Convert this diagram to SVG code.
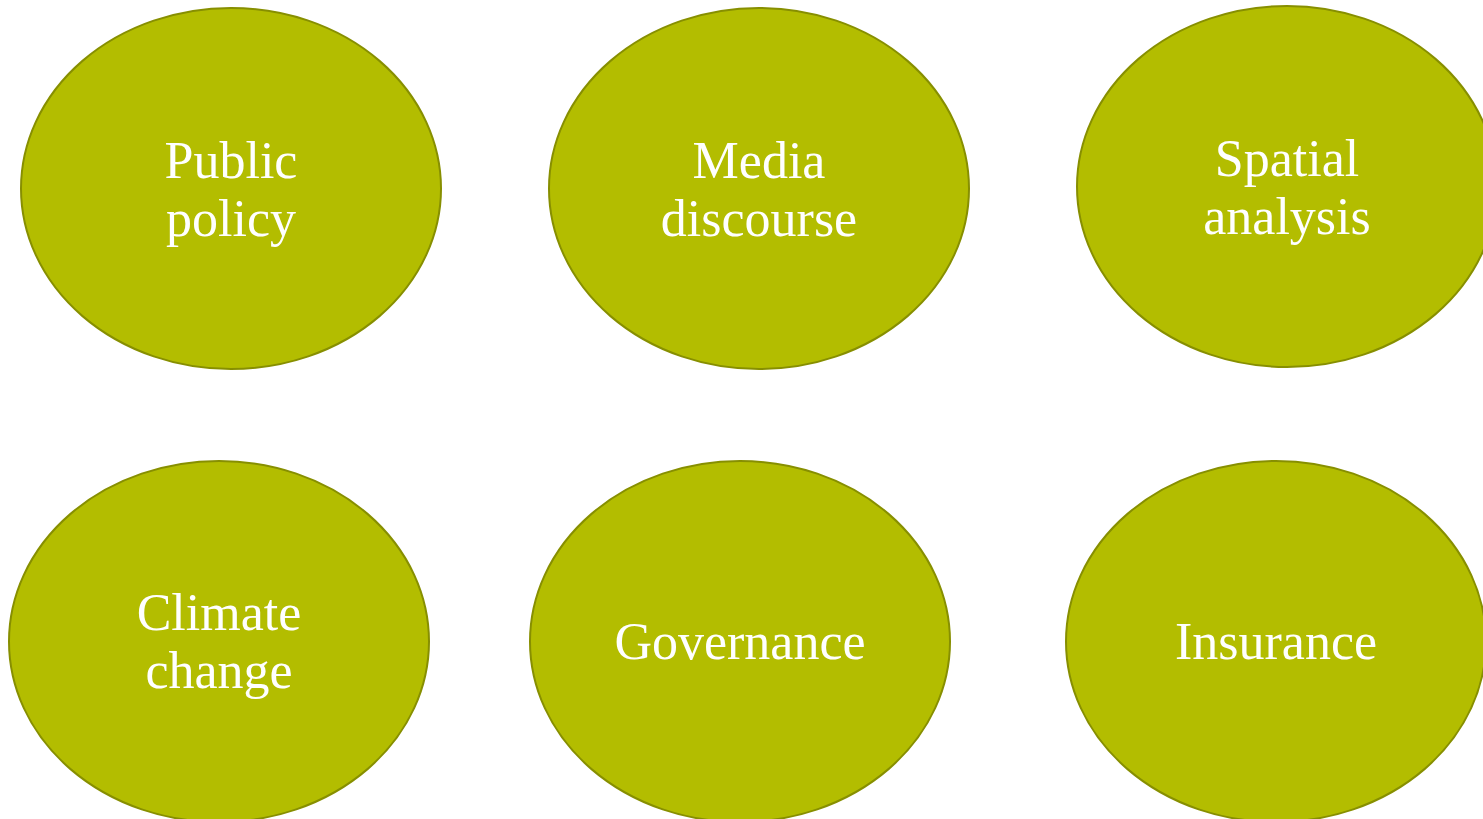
<svg xmlns="http://www.w3.org/2000/svg" width="1483" height="819" viewBox="0 0 1483 819">
  <style>
    .node ellipse { fill: #b3bd00; stroke: #878f00; stroke-width: 2; }
    .node text { fill: #ffffff; font-family: "Liberation Serif", "Times New Roman", serif; font-size: 52px; text-anchor: middle; }
  </style>
  <rect width="1483" height="819" fill="#ffffff"/>
  <g id="public-policy" class="node">
    <ellipse cx="231" cy="188.5" rx="210" ry="180.5"/>
    <text x="231" y="178">Public</text>
    <text x="231" y="236">policy</text>
  </g>
  <g id="media-discourse" class="node">
    <ellipse cx="759" cy="188.5" rx="210" ry="180.5"/>
    <text x="759" y="178">Media</text>
    <text x="759" y="236">discourse</text>
  </g>
  <g id="spatial-analysis" class="node">
    <ellipse cx="1287" cy="186.5" rx="210" ry="180.5"/>
    <text x="1287" y="176">Spatial</text>
    <text x="1287" y="234">analysis</text>
  </g>
  <g id="climate-change" class="node">
    <ellipse cx="219" cy="641.5" rx="210" ry="180.5"/>
    <text x="219" y="630">Climate</text>
    <text x="219" y="688">change</text>
  </g>
  <g id="governance" class="node">
    <ellipse cx="740" cy="641.5" rx="210" ry="180.5"/>
    <text x="740" y="659">Governance</text>
  </g>
  <g id="insurance" class="node">
    <ellipse cx="1276" cy="641.5" rx="210" ry="180.5"/>
    <text x="1276" y="659">Insurance</text>
  </g>
  <g id="connectors"></g>
</svg>
